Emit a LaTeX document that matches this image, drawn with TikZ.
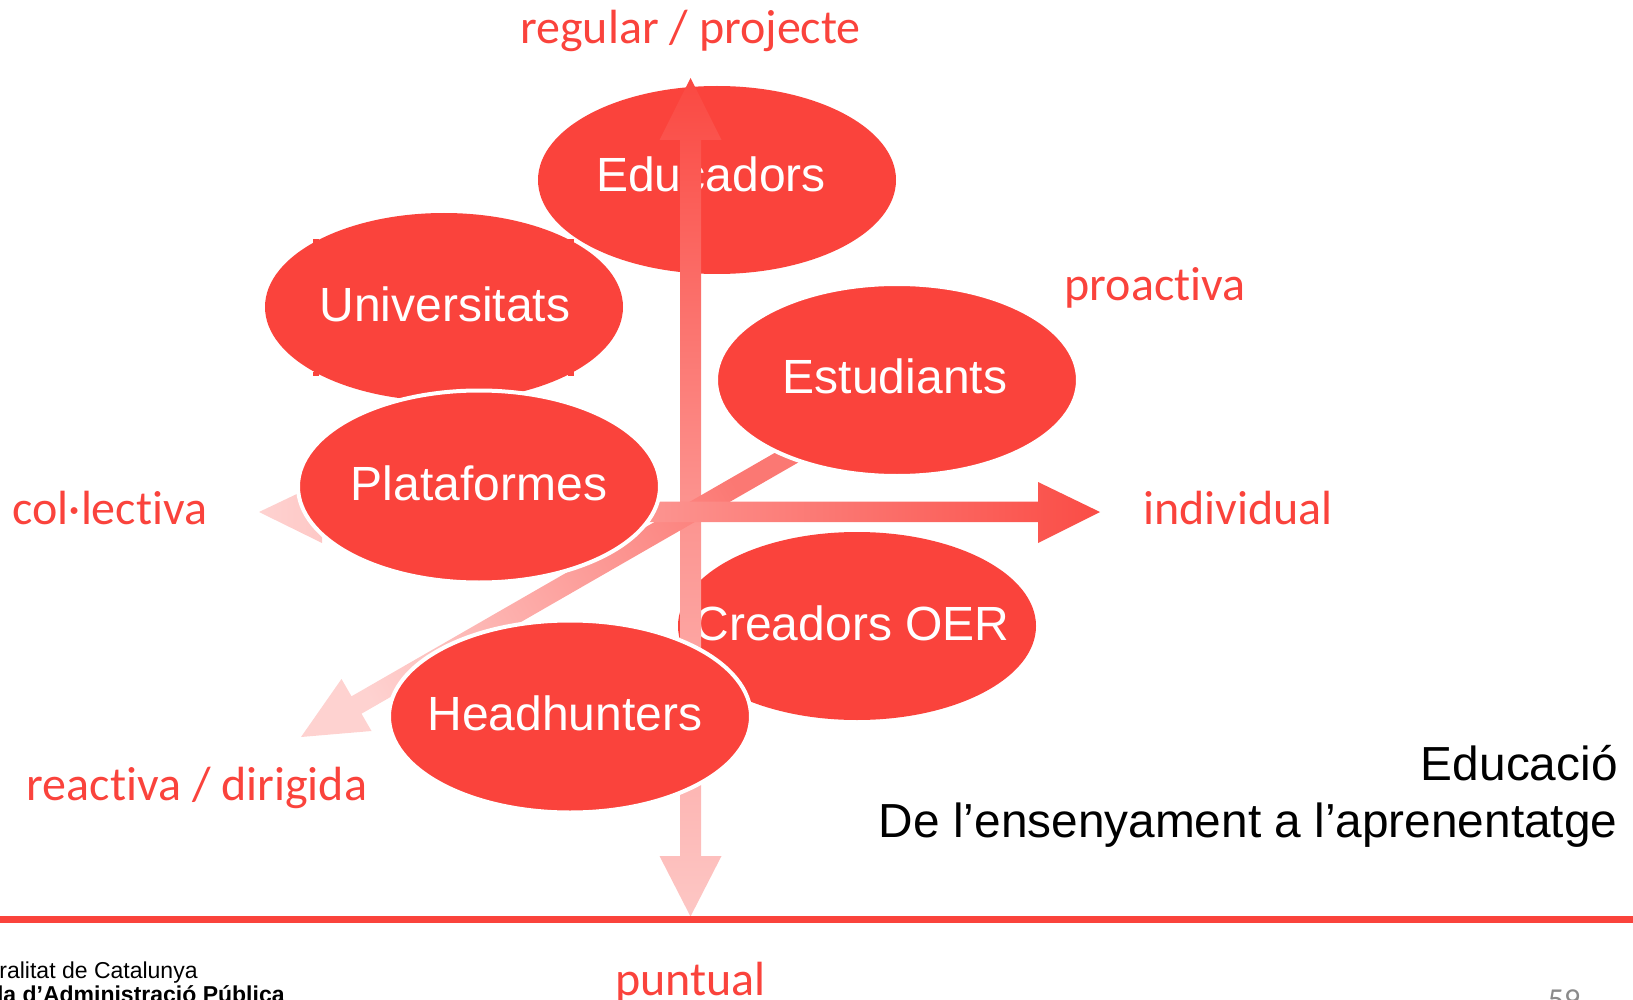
\documentclass[tikz,border=0pt]{standalone}
\usepackage{fontspec}
\setmainfont{Liberation Sans}
\newfontfamily\axisfont[Ligatures=NoCommon]{Carlito}
\usetikzlibrary{shapes.geometric}
\definecolor{eapred}{HTML}{FA433C}
\definecolor{pagegrey}{HTML}{8B8B8B}
\tikzset{
  blob/.style={ellipse,fill=eapred,minimum width=179pt,minimum height=94pt,inner sep=0pt},
  ringblob/.style={blob,draw=white,line width=2pt,minimum width=181pt,minimum height=96pt},
  axislabel/.style={text=eapred,font=\axisfont\fontsize{24}{24}\selectfont,inner sep=0pt},
  titleline/.style={anchor=east,text=black,font=\fontsize{23.9}{23.9}\selectfont,inner sep=0pt},
  every label/.style={text=white,inner sep=0pt,font=\fontsize{24}{24}\selectfont}
}
\begin{document}
\begin{tikzpicture}[x=0.5pt,y=-0.5pt]
\useasboundingbox (0,0) rectangle (1633,1000);
\clip (0,0) rectangle (1633,1000);
% ellipses under the axes
\node[blob,label={[xshift=-3pt,yshift=3pt]center:Educadors}] (educadors) at (717,180) {};
\node[blob,label={[xshift=-2.5pt,yshift=1.5pt]center:Creadors OER}] (creadors) at (857,626) {};
\node[blob,label={[xshift=0.5pt,yshift=1.5pt]center:Universitats}] (universitats) at (444,307) {};
\foreach \tickx/\ticky in {316/241,571/241,316/374,571/374}
  \fill[eapred] (\tickx-3,\ticky-2) rectangle (\tickx+3,\ticky+2);
% axes
\shade[bottom color=eapred!30!white,top color=eapred!97!white,middle color=eapred!58!white]
  (690.5,78) -- (721.5,140) -- (701,140) -- (701,856) -- (721.5,856) -- (690.5,916.5)
  -- (659.5,856) -- (680,856) -- (680,140) -- (659.5,140) -- cycle;
\shade[bottom color=eapred!24!white,top color=eapred!72!white,shading angle=-60]
  (301,737) -- (371.5,731) -- (361.5,713.7) -- (804,459.2) -- (794,441.8)
  -- (351.5,696.3) -- (341.5,679) -- cycle;
\shade[left color=eapred!24!white,right color=eapred!95!white]
  (1100,512) -- (1038,482) -- (1038,501.5) -- (322,501.5) -- (322,482) -- (259,512)
  -- (322,543) -- (322,522) -- (1038,522) -- (1038,543) -- cycle;
% ellipses over the axes
\node[ringblob,label={[xshift=-1pt,yshift=2pt]center:Estudiants}] (estudiants) at (897,380) {};
\node[ringblob,label={[yshift=1.5pt]center:Plataformes}] (plataformes) at (479,486.5) {};
\node[ringblob,label={[xshift=-2.5pt,yshift=1.5pt]center:Headhunters}] (headhunters) at (570,716.5) {};
% ends of the axes
\node[axislabel] (regular) at (690.5,31) {regular / projecte};
\node[axislabel] (proactiva) at (1155,288) {proactiva};
\node[axislabel] (collectiva) at (110,508) {col·lectiva};
\node[axislabel] (individual) at (1238,508) {individual};
\node[axislabel] (reactiva) at (197,788) {reactiva / dirigida};
\node[axislabel] (puntual) at (690.5,983) {puntual};
% title and footer
\node[titleline] (educacio) at (1618,763) {Educació};
\node[titleline] (ensenyament) at (1618,825) {De l’ensenyament a l’aprenentatge};
\fill[eapred] (0,916) rectangle (1633,922.7);
\node[anchor=east,inner sep=0pt,font=\fontsize{11.5}{11.5}\selectfont] (generalitat) at (198,973) {ralitat de Catalunya};
\node[anchor=east,inner sep=0pt,font=\bfseries\fontsize{11.5}{11.5}\selectfont] (escola) at (285,994) {la d’Administració Pública};
\node[inner sep=0pt,text=pagegrey,font=\axisfont\fontsize{16}{16}\selectfont] (pagenum) at (1564,1000) {59};
\end{tikzpicture}
\end{document}
